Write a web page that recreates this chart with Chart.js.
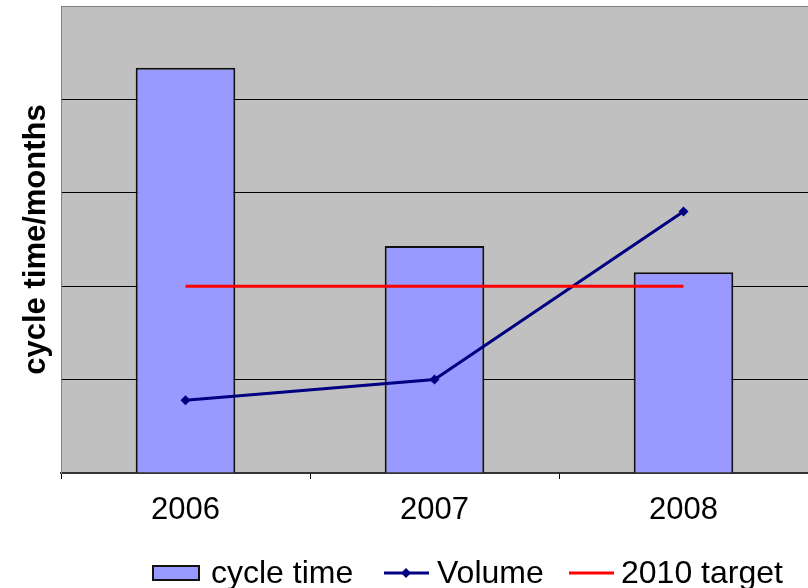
<!DOCTYPE html>
<html lang="en">
<head>
  <meta charset="UTF-8" />
  <title>Cycle time and volume</title>
  <script src="https://cdn.jsdelivr.net/npm/chart.js"></script>
  <style>
    html, body {
      margin: 0;
      padding: 0;
      background-color: #fff;
      overflow: hidden;
    }
    canvas {
      display: block;
    }
  </style>
</head>
<body>
  <!-- a bit wider than the window so the plot frame runs off the right edge -->
  <canvas id="cycleChart" width="813" height="588"></canvas>
  <script>
    const years = ['2006', '2007', '2008'];
    const cycleTime = [4.34, 2.43, 2.15];
    const volume = [0.78, 1.0, 2.8];
    const target2010 = [2, 2, 2];

    const FONT = "'Liberation Sans', Arial, sans-serif";

    // grey plot area with a thin frame on top
    const plotBackground = {
      id: 'plotBackground',
      beforeDraw(chart) {
        const { ctx, chartArea: a } = chart;
        ctx.save();
        ctx.fillStyle = '#c0c0c0';
        ctx.fillRect(a.left, a.top, a.right - a.left, a.bottom - a.top);
        ctx.strokeStyle = '#808080';
        ctx.lineWidth = 1;
        ctx.beginPath();
        ctx.moveTo(a.left, a.top + 0.5);
        ctx.lineTo(a.right, a.top + 0.5);
        ctx.stroke();
        ctx.restore();
      }
    };

    // legend along the bottom: box for bars, line + marker for the line series
    const bottomLegend = {
      id: 'bottomLegend',
      afterDraw(chart) {
        const { ctx } = chart;
        const ds = chart.data.datasets;
        const y = 573;
        ctx.save();
        ctx.font = '32px ' + FONT;
        ctx.textBaseline = 'middle';
        ctx.fillStyle = '#000';

        ctx.fillStyle = ds[0].backgroundColor;
        ctx.fillRect(153, 566, 46, 14);
        ctx.strokeStyle = '#111';
        ctx.lineWidth = 2;
        ctx.strokeRect(153, 566, 46, 14);
        ctx.fillStyle = '#000';
        ctx.fillText(ds[0].label, 211, y + 1);

        ctx.strokeStyle = ds[1].borderColor;
        ctx.lineWidth = 3;
        ctx.beginPath();
        ctx.moveTo(384, y);
        ctx.lineTo(429, y);
        ctx.stroke();
        ctx.fillStyle = ds[1].borderColor;
        ctx.beginPath();
        ctx.moveTo(406, y - 5);
        ctx.lineTo(411, y);
        ctx.lineTo(406, y + 5);
        ctx.lineTo(401, y);
        ctx.closePath();
        ctx.fill();
        ctx.fillStyle = '#000';
        ctx.fillText(ds[1].label, 437, y + 1);

        ctx.strokeStyle = ds[2].borderColor;
        ctx.lineWidth = 3;
        ctx.beginPath();
        ctx.moveTo(569, y);
        ctx.lineTo(614, y);
        ctx.stroke();
        ctx.fillText(ds[2].label, 621, y + 1);
        ctx.restore();
      }
    };

    const ctx = document.getElementById('cycleChart').getContext('2d');
    new Chart(ctx, {
      type: 'bar',
      data: {
        labels: years,
        datasets: [
          {
            type: 'bar',
            label: 'cycle time',
            data: cycleTime,
            backgroundColor: '#9999ff',
            borderColor: '#111',
            borderWidth: 2,
            barPercentage: 0.4,
            categoryPercentage: 1.0,
            order: 3
          },
          {
            type: 'line',
            label: 'Volume',
            data: volume,
            borderColor: '#000080',
            backgroundColor: '#000080',
            borderWidth: 3,
            pointStyle: 'rectRot',
            pointRadius: 5,
            pointBorderWidth: 0,
            tension: 0,
            order: 2
          },
          {
            type: 'line',
            label: '2010 target',
            data: target2010,
            borderColor: '#ff0000',
            backgroundColor: '#ff0000',
            borderWidth: 3,
            pointRadius: 0,
            tension: 0,
            order: 1
          }
        ]
      },
      options: {
        responsive: false,
        animation: false,
        layout: {
          padding: { top: 6, right: 0, bottom: 60, left: 0 }
        },
        plugins: {
          legend: { display: false },
          tooltip: { enabled: false }
        },
        scales: {
          x: {
            afterFit(scale) {
              scale.height = 55;
              scale.paddingLeft = 0;
              scale.paddingRight = 0;
            },
            grid: {
              offset: true,
              drawOnChartArea: false,
              drawTicks: true,
              tickLength: 6,
              color: '#000'
            },
            border: { display: true, color: '#333', width: 2 },
            ticks: {
              color: '#000',
              padding: 13,
              font: { family: FONT, size: 31 }
            }
          },
          y: {
            min: 0,
            max: 5,
            afterFit(scale) { scale.width = 61; },
            ticks: { display: false, stepSize: 1 },
            grid: {
              drawTicks: false,
              color: (c) => (c.tick.value > 0 && c.tick.value < 5 ? '#000' : 'rgba(0,0,0,0)'),
              lineWidth: 1
            },
            border: { display: true, color: '#808080', width: 1 },
            title: {
              display: true,
              text: 'cycle time/months',
              color: '#000',
              padding: { top: 18, bottom: 0 },
              font: { family: FONT, size: 31, weight: 'bold' }
            }
          }
        }
      },
      plugins: [plotBackground, bottomLegend]
    });
  </script>
</body>
</html>
